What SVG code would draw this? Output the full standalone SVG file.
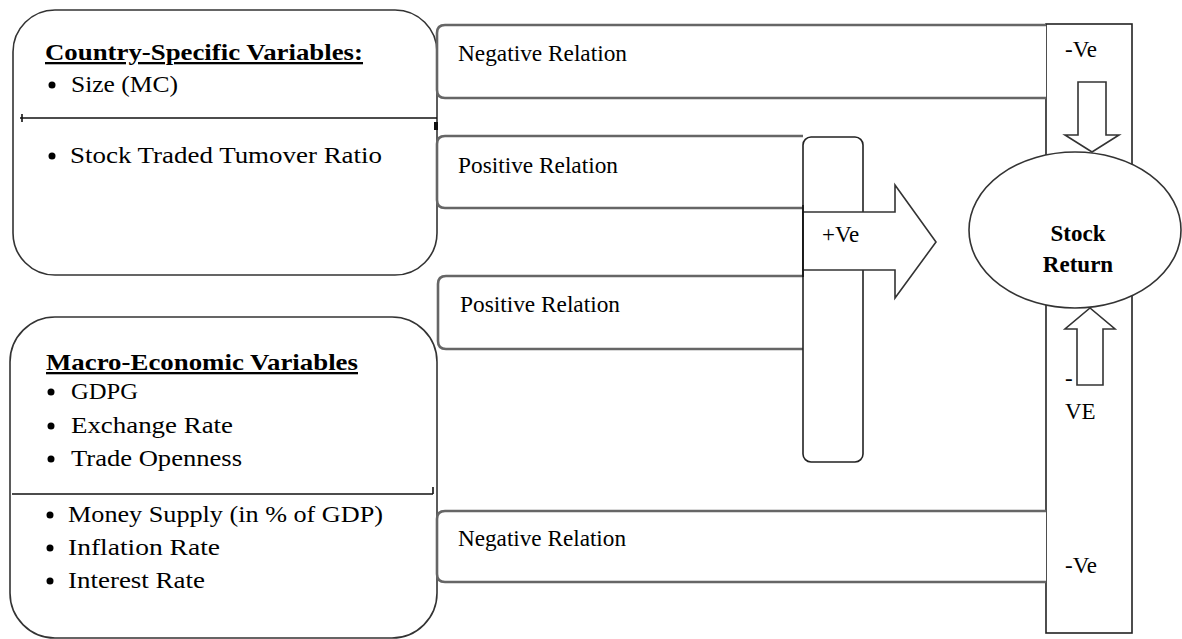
<svg xmlns="http://www.w3.org/2000/svg" width="1182" height="639" viewBox="0 0 1182 639">
<style>
text{font-family:'Liberation Serif','Times New Roman','DejaVu Serif',Tinos,serif;fill:#000;font-size:23px}
.b{font-weight:bold}
.u{text-decoration:underline}
.big{fill:#fff;stroke:#333;stroke-width:1.6}
.rel{fill:#fff;stroke:#666;stroke-width:2.6}
.col{fill:#fff;stroke:#222;stroke-width:1.6}
.ln{stroke:#111;stroke-width:1.6;fill:none}
.arr{fill:#fff;stroke:#333;stroke-width:1.6;stroke-linejoin:miter}
</style>
<rect width="1182" height="639" fill="#fff"/>

<g id="country-box">
<rect class="big" x="13" y="10" width="424" height="265" rx="42" ry="42"/>
<line class="ln" x1="20" y1="118" x2="437" y2="118"/>
<line class="ln" x1="22" y1="114" x2="22" y2="122"/>
<rect x="434" y="122" width="4" height="8" fill="#111"/>
<text class="b u" x="45" y="60" textLength="318" lengthAdjust="spacingAndGlyphs">Country-Specific Variables:</text>
<circle cx="52" cy="85" r="3.5" fill="#000"/>
<text x="71" y="92" textLength="107" lengthAdjust="spacingAndGlyphs">Size (MC)</text>
<circle cx="52" cy="156" r="3.5" fill="#000"/>
<text x="70" y="163" textLength="312" lengthAdjust="spacingAndGlyphs">Stock Traded Tumover Ratio</text>
</g>

<g id="macro-box">
<rect class="big" x="10" y="317" width="427" height="321" rx="45" ry="45"/>
<line class="ln" x1="12" y1="494" x2="433" y2="494"/>
<line class="ln" x1="433" y1="487" x2="433" y2="494"/>
<text class="b u" x="46" y="370" textLength="312" lengthAdjust="spacingAndGlyphs">Macro-Economic Variables</text>
<circle cx="51" cy="392" r="3.5" fill="#000"/>
<text x="71" y="399" textLength="67" lengthAdjust="spacingAndGlyphs">GDPG</text>
<circle cx="51" cy="426" r="3.5" fill="#000"/>
<text x="71" y="433" textLength="162" lengthAdjust="spacingAndGlyphs">Exchange Rate</text>
<circle cx="51" cy="459" r="3.5" fill="#000"/>
<text x="71" y="466" textLength="171" lengthAdjust="spacingAndGlyphs">Trade Openness</text>
<circle cx="50" cy="515" r="3.5" fill="#000"/>
<text x="68" y="522" textLength="315" lengthAdjust="spacingAndGlyphs">Money Supply (in % of GDP)</text>
<circle cx="50" cy="548" r="3.5" fill="#000"/>
<text x="68" y="555" textLength="152" lengthAdjust="spacingAndGlyphs">Inflation Rate</text>
<circle cx="50" cy="581" r="3.5" fill="#000"/>
<text x="68" y="588" textLength="137" lengthAdjust="spacingAndGlyphs">Interest Rate</text>
</g>

<g id="neg-column">
<rect class="col" x="1046" y="24" width="86" height="609"/>
<text x="1065" y="57">-Ve</text>
<text x="1065" y="386">-</text>
<text x="1065" y="419">VE</text>
<text x="1065" y="573">-Ve</text>
</g>

<g id="relations">
<g id="neg-rel-top">
<path class="rel" d="M1046 25 H445 Q437 25 437 33 V90 Q437 98 445 98 H1046"/>
<text x="458" y="61" textLength="169" lengthAdjust="spacingAndGlyphs">Negative Relation</text>
</g>
<g id="pos-rel-top">
<path class="rel" d="M803 136 H445 Q437 136 437 144 V200 Q437 208 445 208 H803"/>
<text x="458" y="173" textLength="160" lengthAdjust="spacingAndGlyphs">Positive Relation</text>
</g>
<g id="pos-rel-bottom">
<path class="rel" d="M803 276 H446 Q438 276 438 284 V341 Q438 349 446 349 H803"/>
<text x="460" y="312" textLength="160" lengthAdjust="spacingAndGlyphs">Positive Relation</text>
</g>
<g id="neg-rel-bottom">
<path class="rel" d="M1046 511 H445 Q437 511 437 519 V574 Q437 582 445 582 H1046"/>
<text x="458" y="546" textLength="168" lengthAdjust="spacingAndGlyphs">Negative Relation</text>
</g>
</g>

<g id="pos-column">
<rect class="col" x="803" y="137" width="60" height="325" rx="8" ry="8"/>
</g>

<g id="connectors">
<polygon class="arr" points="803,212 895,212 895,185 936,242 895,298 895,270 803,270"/>
<line class="ln" x1="803" y1="205" x2="803" y2="277"/>
<polygon class="arr" points="1078,82 1106,82 1106,135 1119,135 1092,152 1065,135 1078,135"/>
<polygon class="arr" points="1077,385 1103,385 1103,329 1115,329 1090,308 1065,329 1077,329"/>
</g>

<g id="stock-return">
<ellipse cx="1075" cy="230" rx="106" ry="78" fill="#fff" stroke="#333" stroke-width="1.6"/>
<text class="b" x="1078" y="241" text-anchor="middle">Stock</text>
<text class="b" x="1078" y="272" text-anchor="middle">Return</text>
</g>
<text x="822" y="242">+Ve</text>
</svg>
